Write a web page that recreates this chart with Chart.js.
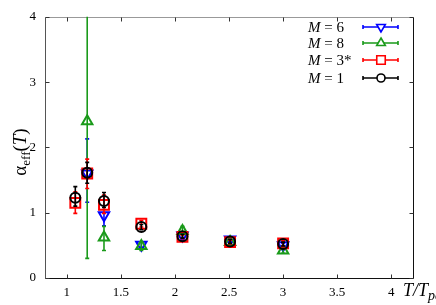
<!DOCTYPE html>
<html>
<head>
<meta charset="utf-8">
<script src="https://cdn.jsdelivr.net/npm/chart.js@4.4.0/dist/chart.umd.min.js"></script>
<style>
body { margin: 0; background: #fff; }
canvas { display: block; }
</style>
</head>
<body>
<canvas id="chart" width="436" height="305"></canvas>
<script>
// values
const labels = ["6", "8", "3*", "1"];
const colors = ["#0000ff", "#1a9a1a", "#ff0000", "#000000"];
const styles = ["triangle", "triangle", "rect", "circle"];

const xM6 = [1.19, 1.345, 1.69, 2.07, 2.51, 3.0];
const yM6 = [1.60, 0.96, 0.51, 0.65, 0.59, 0.50];
const loM6 = [1.16, 0.80, 0.47, 0.61, 0.56, 0.47];
const hiM6 = [2.13, 1.00, 0.55, 0.69, 0.62, 0.53];

const xM8 = [1.19, 1.345, 1.69, 2.07, 2.51, 3.0];
const yM8 = [2.40, 0.62, 0.49, 0.72, 0.55, 0.42];
const loM8 = [0.30, 0.42, 0.42, 0.66, 0.52, 0.38];
const hiM8 = [4.50, 0.79, 0.55, 0.79, 0.58, 0.45];

const xM3 = [1.08, 1.19, 1.345, 1.69, 2.07, 2.51, 3.0];
const yM3 = [1.15, 1.60, 1.12, 0.83, 0.63, 0.55, 0.53];
const loM3 = [0.99, 1.37, 0.99, 0.78, 0.60, 0.52, 0.49];
const hiM3 = [1.32, 1.82, 1.27, 0.88, 0.66, 0.58, 0.57];

const xM1 = [1.08, 1.19, 1.345, 1.69, 2.07, 2.51, 3.0];
const yM1 = [1.23, 1.61, 1.18, 0.78, 0.64, 0.56, 0.52];
const loM1 = [1.10, 1.45, 1.08, 0.74, 0.61, 0.53, 0.49];
const hiM1 = [1.40, 1.77, 1.31, 0.82, 0.67, 0.59, 0.55];

const xTicks = [1, 1.5, 2, 2.5, 3, 3.5, 4];
const yTicks = [0, 1, 2, 3, 4];

const FONT = "'Liberation Serif', 'DejaVu Serif', serif";

function makeSet(i, xs, ys, lo, hi) {
	return {
		label: "M = " + labels[i],
		data: xs.map((x, k) => ({ x: x, y: ys[k] })),
		errLo: lo,
		errHi: hi,
		borderColor: colors[i],
		backgroundColor: "rgba(0,0,0,0)",
		pointStyle: styles[i],
		pointRotation: i == 0 ? 180 : 0,
		pointRadius: [6, 6, 7, 5][i],
		pointBorderWidth: 2,
		showLine: false,
		order: 4 - i
	};
}

// vertical error bars with small caps, drawn under each dataset's markers
const errorBars = {
	id: "errorBars",
	beforeDatasetDraw(chart, args) {
		const ds = chart.data.datasets[args.index];
		const sx = chart.scales.x, sy = chart.scales.y;
		const a = chart.chartArea;
		const c = chart.ctx;
		c.save();
		c.beginPath();
		c.rect(a.left, a.top, a.right - a.left, a.bottom - a.top);
		c.clip();
		c.strokeStyle = ds.borderColor;
		c.lineWidth = 1.6;
		ds.data.forEach((p, k) => {
			const px = sx.getPixelForValue(p.x);
			const lo = sy.getPixelForValue(ds.errLo[k]);
			const hi = sy.getPixelForValue(ds.errHi[k]);
			c.beginPath();
			c.moveTo(px, lo); c.lineTo(px, hi);
			c.moveTo(px - 2, lo); c.lineTo(px + 2, lo);
			c.moveTo(px - 2, hi); c.lineTo(px + 2, hi);
			c.stroke();
		});
		c.restore();
	}
};

// gnuplot style box with inward ticks on all four sides
const frame = {
	id: "frame",
	beforeDatasetsDraw(chart) {
		const c = chart.ctx, a = chart.chartArea;
		const sx = chart.scales.x, sy = chart.scales.y;
		const L = Math.round(a.left) + 0.5, R = Math.round(a.right) + 0.5;
		const T = Math.round(a.top) + 0.5, B = Math.round(a.bottom) + 0.5;
		c.save();
		c.lineWidth = 1;
		c.strokeStyle = "#999";
		c.beginPath(); c.moveTo(L, T); c.lineTo(R, T); c.stroke();
		c.strokeStyle = "#555";
		c.beginPath(); c.moveTo(L, T); c.lineTo(L, B); c.stroke();
		c.strokeStyle = "#111";
		c.beginPath(); c.moveTo(L, B); c.lineTo(R, B); c.lineTo(R, T); c.stroke();
		c.strokeStyle = "#333";
		c.beginPath();
		for (let v of xTicks) {
			const px = Math.round(sx.getPixelForValue(v)) + 0.5;
			c.moveTo(px, B); c.lineTo(px, B - 4);
			c.moveTo(px, T); c.lineTo(px, T + 4);
		}
		for (let v of yTicks) {
			const py = Math.round(sy.getPixelForValue(v)) + 0.5;
			c.moveTo(L, py); c.lineTo(L + 4, py);
			c.moveTo(R, py); c.lineTo(R - 4, py);
		}
		c.stroke();
		c.restore();
	},
	afterDraw(chart) {
		const c = chart.ctx;
		c.save();
		c.fillStyle = "#000";
		c.textBaseline = "alphabetic";

		// y title: alpha_eff(T), rotated
		c.translate(20, 152);
		c.rotate(-Math.PI / 2);
		let parts = [
			["α", "19px " + FONT, 0],
			["eff", "13px " + FONT, 4],
			["(", "19px " + FONT, 0],
			["T", "italic 19px " + FONT, 0],
			[")", "19px " + FONT, 0]
		];
		let w = 0;
		for (let p of parts) { c.font = p[1]; w += c.measureText(p[0]).width; }
		let x = -w / 2;
		for (let p of parts) {
			c.font = p[1];
			c.fillText(p[0], x, 6 + p[2]);
			x += c.measureText(p[0]).width;
		}
		c.setTransform(1, 0, 0, 1, 0, 0);

		// x title: T/T_pc next to the last tick label
		parts = [
			["T/T", "italic 18px " + FONT, 0],
			["pc", "italic 14px " + FONT, 4]
		];
		x = 403;
		for (let p of parts) {
			c.font = p[1];
			c.fillText(p[0], x, 296 + p[2]);
			x += c.measureText(p[0]).width;
		}

		// legend: label text, then a line sample with caps and marker
		const rows = [27, 43, 60, 78];
		chart.data.datasets.forEach((ds, i) => {
			const y = rows[i];
			c.fillStyle = "#000";
			c.font = "italic 15px " + FONT;
			c.fillText("M", 308, y + 5);
			let mw = c.measureText("M").width;
			c.font = "15px " + FONT;
			c.fillText(" = " + labels[i], 308 + mw, y + 5);
			c.strokeStyle = ds.borderColor;
			c.lineWidth = 1.6;
			c.beginPath();
			c.moveTo(363, y); c.lineTo(398, y);
			c.moveTo(363, y - 2); c.lineTo(363, y + 2);
			c.moveTo(398, y - 2); c.lineTo(398, y + 2);
			c.stroke();
			c.fillStyle = "#fff";
			Chart.helpers.drawPoint(c, {
				pointStyle: ds.pointStyle,
				rotation: ds.pointRotation,
				radius: [5, 5, 6, 4][i],
				borderWidth: 1.8
			}, 381, y);
		});
		c.restore();
	}
};

const chart = new Chart(document.getElementById("chart"), {
	type: "scatter",
	data: {
		datasets: [
			makeSet(0, xM6, yM6, loM6, hiM6),
			makeSet(1, xM8, yM8, loM8, hiM8),
			makeSet(2, xM3, yM3, loM3, hiM3),
			makeSet(3, xM1, yM1, loM1, hiM1)
		]
	},
	options: {
		responsive: false,
		animation: false,
		layout: { padding: { top: 15, right: 23, left: 0, bottom: 0 } },
		plugins: { legend: { display: false }, tooltip: { enabled: false } },
		scales: {
			x: {
				type: "linear",
				min: 0.8,
				max: 4.2,
				afterBuildTicks: (s) => { s.ticks = xTicks.map(v => ({ value: v })); },
				afterFit: (s) => { s.height = 27; },
				grid: { display: false, drawTicks: false },
				border: { display: false },
				ticks: {
					padding: 7,
					color: "#000",
					font: { family: FONT, size: 13 },
					maxRotation: 0,
					autoSkip: false,
					callback: (v) => String(v)
				}
			},
			y: {
				type: "linear",
				min: 0,
				max: 4,
				afterBuildTicks: (s) => { s.ticks = yTicks.map(v => ({ value: v })); },
				afterFit: (s) => { s.width = 45; },
				grid: { display: false, drawTicks: false },
				border: { display: false },
				ticks: {
					padding: 9,
					color: "#000",
					font: { family: FONT, size: 13 },
					callback: (v) => String(v)
				}
			}
		}
	},
	plugins: [errorBars, frame]
});
</script>
</body>
</html>
